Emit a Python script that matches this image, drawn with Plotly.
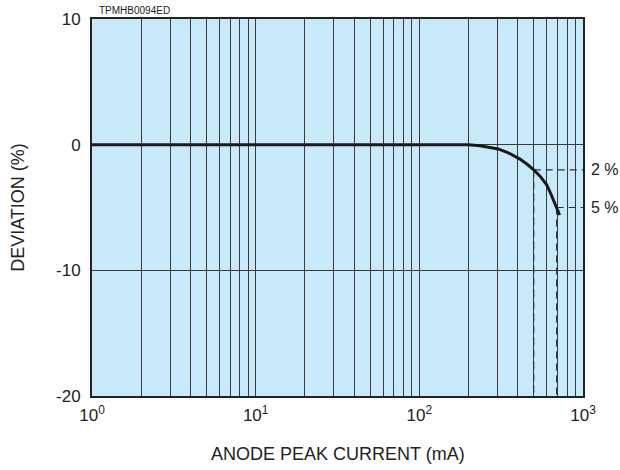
import plotly.graph_objects as go

# Data
current_ma = [1, 10, 100, 200, 235, 270, 303, 350, 412, 460, 500, 550, 600, 628, 660, 690, 720]
deviation_pct = [0, 0, 0, 0, -0.08, -0.2, -0.34, -0.65, -1.15, -1.6, -2.0, -2.55, -3.2, -3.75, -4.4, -5.0, -5.6]

marker_current = [500, 690]
marker_dev = [-2, -5]
marker_labels = ["2 %", "5 %"]

x_tick_vals = [1, 10, 100, 1000]
x_tick_text = ["10<sup>0</sup>", "10<sup>1</sup>", "10<sup>2</sup>", "10<sup>3</sup>"]
x_minor_vals = [m * d for d in (1, 10, 100) for m in range(2, 10)]
y_tick_vals = [-20, -10, 0, 10]
y_tick_text = ["-20", "-10", "0", "10"]

FONT = "Liberation Sans, Arial, sans-serif"
GRID = "#3a3a3a"
DASH = "#333333"

fig = go.Figure()

# dashed reference lines
for xc, yd in zip(marker_current, marker_dev):
    fig.add_trace(go.Scatter(x=[xc, xc], y=[yd, -20], mode="lines",
                             line=dict(color=DASH, width=1.2, dash="7px,5px"),
                             hoverinfo="skip", showlegend=False))
    fig.add_trace(go.Scatter(x=[xc, 1000], y=[yd, yd], mode="lines",
                             line=dict(color=DASH, width=1.2, dash="7px,5px"),
                             hoverinfo="skip", showlegend=False))

fig.add_trace(go.Scatter(x=current_ma, y=deviation_pct, mode="lines",
                         line=dict(color="#1a1a1a", width=3),
                         showlegend=False))

annotations = []
for yd, lab in zip(marker_dev, marker_labels):
    annotations.append(dict(x=1.013, xref="paper", y=yd, yref="y", text=lab,
                            showarrow=False, xanchor="left", yanchor="middle",
                            font=dict(family=FONT, size=16, color="#222")))
annotations += [
    dict(x=0.01, xref="paper", y=1.0, yref="paper", text="TPMHB0094ED", showarrow=False,
         xanchor="left", yanchor="bottom", yshift=1, font=dict(family=FONT, size=10, color="#222")),
    dict(x=0.5, xref="paper", y=-0.155, yref="paper", text="ANODE PEAK CURRENT (mA)",
         showarrow=False, xanchor="center", yanchor="middle",
         font=dict(family=FONT, size=18, color="#222")),
    dict(x=-0.152, xref="paper", y=0.5, yref="paper", text="DEVIATION (%)", textangle=-90,
         showarrow=False, xanchor="center", yanchor="middle",
         font=dict(family=FONT, size=18, color="#222")),
]

fig.update_layout(
    width=620, height=470,
    margin=dict(l=92, r=37, t=19, b=74, autoexpand=False),
    paper_bgcolor="white",
    plot_bgcolor="#c8e9f9",
    font=dict(family=FONT, size=17, color="#222"),
    annotations=annotations,
    xaxis=dict(type="log", range=[0, 3], tickvals=x_tick_vals, ticktext=x_tick_text,
               automargin=False,
               showgrid=True, gridcolor=GRID, gridwidth=1,
               minor=dict(tickvals=x_minor_vals, showgrid=True, gridcolor=GRID, gridwidth=1, ticks=""),
               showline=True, linecolor="#222", linewidth=2, mirror=True,
               ticks="", ticklabelstandoff=3, zeroline=False,
               tickfont=dict(family=FONT, size=17, color="#222")),
    yaxis=dict(range=[-20, 10], tickvals=y_tick_vals, ticktext=y_tick_text,
               automargin=False,
               showgrid=True, gridcolor=GRID, gridwidth=1,
               showline=True, linecolor="#222", linewidth=2, mirror=True,
               ticks="", ticklabelstandoff=6, zeroline=False,
               tickfont=dict(family=FONT, size=17, color="#222")),
)

# remove the default 8px body margin so the 620x470 figure fills the window exactly
fig.write_html("out.html", config={"displayModeBar": False},
               post_script="document.body.style.margin='0';")
